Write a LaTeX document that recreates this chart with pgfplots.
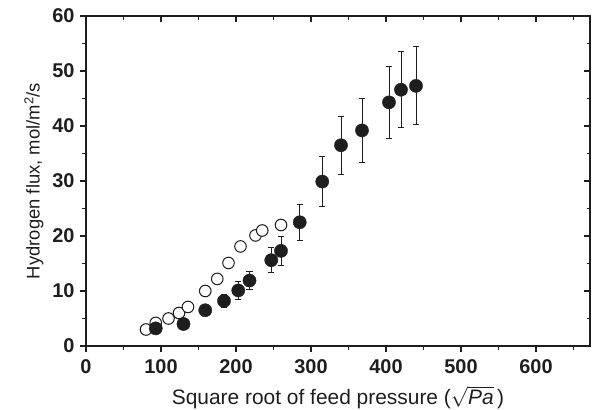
\documentclass[border=0pt]{standalone}
\usepackage{pgfplots}
\pgfplotsset{compat=1.18}
\usepackage{fontspec}
\setmainfont{Liberation Sans}
\definecolor{ink}{RGB}{30,30,30}

\pgfplotstableread{
x y
80 3.0
93 4.2
110 5.0
124 6.0
136 7.1
159 10.0
175 12.2
190 15.1
206 18.1
226 20.1
235 21.0
260 22.0
}\opendata

\pgfplotstableread{
x y e
93 3.2 0.5
130 4.0 0.5
159 6.5 0.6
184 8.2 1.2
203 10.1 1.6
218 11.9 1.7
247 15.6 2.3
260 17.3 2.6
285 22.5 3.3
315 29.9 4.5
340 36.5 5.3
368 39.2 5.8
404 44.3 6.6
420 46.6 6.9
440 47.3 7.1
}\filleddata

\pgfplotsset{
  common/.style={
    scale only axis, width=504bp, height=330bp,
    xmin=0, xmax=672, ymin=0, ymax=60,
    xtick={0,100,...,600}, ytick={0,10,...,60},
    minor xtick={50,150,...,650}, minor ytick={5,15,...,55},
    major tick length=6bp, minor tick length=3.5bp,
    axis line style={line width=1.1pt, ink},
    every tick/.style={line width=1.1pt, ink},
  }
}

\begin{document}
\begin{tikzpicture}
\path[use as bounding box] (-86bp,-64bp) rectangle (510bp,346bp);
\begin{axis}[
  common,
  xtick pos=left, ytick pos=left, tick align=outside,
  ticklabel style={font=\fontsize{20}{20}\selectfont\bfseries, text=ink},
  xticklabel style={yshift=-4bp},
  yticklabel style={xshift=-2bp},
  /pgf/number format/assume math mode=true,
  xlabel={Square root of feed pressure (\smash{$\sqrt{\mbox{\itshape Pa}}$}\,)},
  ylabel={Hydrogen flux, mol/m\textsuperscript{2}/s},
  xlabel style={font=\fontsize{21}{21}\selectfont, text=ink, yshift=-9bp},
  ylabel style={font=\fontsize{18.5}{18.5}\selectfont, text=ink, yshift=2bp},
]
\addplot[only marks, mark=*, mark size=5.8bp,
  mark options={fill=white, draw=ink, line width=1pt}]
  table[x=x, y=y] {\opendata};
\addplot[only marks, mark=*, mark size=6.6bp, ink,
  mark options={fill=ink, draw=ink},
  error bars/.cd, y dir=both, y explicit,
  error bar style={line width=1pt, ink},
  error mark options={rotate=90, line width=1pt, mark size=3bp, ink}]
  table[x=x, y=y, y error=e] {\filleddata};
\end{axis}
\begin{axis}[
  common,
  xtick pos=right, ytick pos=right, tick align=inside,
  xticklabels={}, yticklabels={},
]
\end{axis}
\end{tikzpicture}
\end{document}
